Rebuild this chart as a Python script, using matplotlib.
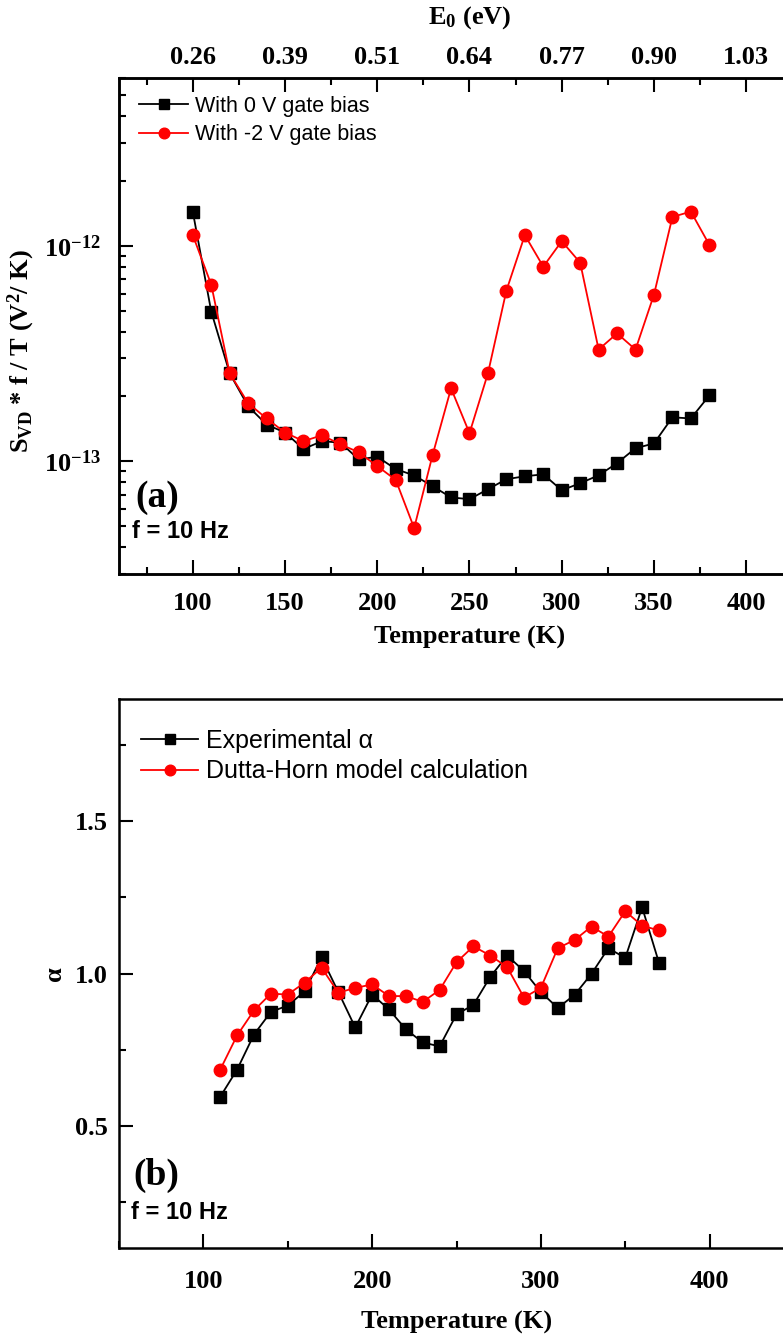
import matplotlib
matplotlib.use("Agg")
import matplotlib.pyplot as plt
from matplotlib.ticker import FixedLocator, LogLocator, NullFormatter, MultipleLocator

plt.rcParams['mathtext.fontset'] = 'custom'
plt.rcParams['mathtext.rm'] = 'Liberation Serif:bold'
plt.rcParams['mathtext.bf'] = 'Liberation Serif:bold'
plt.rcParams['mathtext.it'] = 'Liberation Serif:italic:bold'

SERIF = 'Liberation Serif'
SANS = 'Liberation Sans'

# (a) noise spectral density vs temperature
temp_a = [100, 110, 120, 130, 140, 150, 160, 170, 180, 190, 200, 210, 220, 230, 240,
          250, 260, 270, 280, 290, 300, 310, 320, 330, 340, 350, 360, 370, 380]
svd_0v = [1.44e-12, 4.95e-13, 2.56e-13, 1.80e-13, 1.48e-13, 1.36e-13, 1.14e-13, 1.24e-13,
          1.22e-13, 1.02e-13, 1.05e-13, 9.2e-14, 8.6e-14, 7.66e-14, 6.8e-14, 6.67e-14,
          7.42e-14, 8.26e-14, 8.52e-14, 8.7e-14, 7.34e-14, 7.91e-14, 8.61e-14, 9.8e-14,
          1.15e-13, 1.21e-13, 1.60e-13, 1.58e-13, 2.02e-13]
svd_m2v = [1.12e-12, 6.6e-13, 2.56e-13, 1.86e-13, 1.58e-13, 1.36e-13, 1.24e-13, 1.32e-13,
           1.20e-13, 1.10e-13, 9.5e-14, 8.2e-14, 4.9e-14, 1.07e-13, 2.18e-13, 1.35e-13,
           2.56e-13, 6.19e-13, 1.12e-12, 8.0e-13, 1.05e-12, 8.34e-13, 3.3e-13, 3.92e-13,
           3.3e-13, 5.93e-13, 1.36e-12, 1.44e-12, 1.01e-12]

# top axis: activation energy at the 100..400 K ticks
e0_ticks_T = [100, 150, 200, 250, 300, 350, 400]
e0_labels = ['0.26', '0.39', '0.51', '0.64', '0.77', '0.90', '1.03']

# (b) frequency exponent alpha
temp_b = [110, 120, 130, 140, 150, 160, 170, 180, 190, 200, 210, 220, 230, 240, 250,
          260, 270, 280, 290, 300, 310, 320, 330, 340, 350, 360, 370]
alpha_exp = [0.596, 0.685, 0.80, 0.874, 0.895, 0.941, 1.053, 0.939, 0.823, 0.931, 0.882,
             0.817, 0.774, 0.761, 0.866, 0.897, 0.989, 1.059, 1.008, 0.939, 0.887, 0.930,
             0.999, 1.083, 1.051, 1.217, 1.035]
alpha_dh = [0.685, 0.797, 0.879, 0.934, 0.931, 0.970, 1.019, 0.937, 0.953, 0.964, 0.926,
            0.926, 0.907, 0.946, 1.037, 1.089, 1.059, 1.021, 0.921, 0.953, 1.083, 1.110,
            1.154, 1.121, 1.204, 1.157, 1.141]

W, H = 783, 1339
fig = plt.figure(figsize=(W / 100, H / 100), dpi=100)


def px_axes(left, top, right, bottom):
    return fig.add_axes([left / W, 1 - bottom / H, (right - left) / W, (bottom - top) / H])


def style_ticks(ax, which_axes='both'):
    ax.tick_params(axis=which_axes, which='major', direction='in', length=10, width=1.5)
    ax.tick_params(axis=which_axes, which='minor', direction='in', length=5, width=1.5)
    for s in ax.spines.values():
        s.set_linewidth(1.8)


def bold_serif(labels, size=19):
    for lab in labels:
        lab.set_fontfamily(SERIF)
        lab.set_fontweight('bold')
        lab.set_fontsize(size)


line_kw = dict(lw=1.3)
sq_kw = dict(marker='s', ms=8, color='black', mfc='black', mec='black')
ci_kw = dict(marker='o', ms=9, color='red', mfc='red', mec='red')

# ---------------- panel (a) ----------------
ax1 = px_axes(119, 78, 820, 574)
ax1.plot(temp_a, svd_0v, label='With 0 V gate bias', **sq_kw, **line_kw)
ax1.plot(temp_a, svd_m2v, label='With -2 V gate bias', **ci_kw, **line_kw)
ax1.set_yscale('log')
ax1.set_xlim(60, 440)
ax1.set_ylim(3e-14, 6e-12)
ax1.xaxis.set_major_locator(MultipleLocator(50))
ax1.xaxis.set_minor_locator(MultipleLocator(25))
ax1.yaxis.set_major_locator(FixedLocator([1e-13, 1e-12]))
ax1.set_yticklabels([r'$10^{-13}$', r'$10^{-12}$'])
ax1.yaxis.set_minor_locator(LogLocator(base=10, subs=range(2, 10)))
ax1.yaxis.set_minor_formatter(NullFormatter())
style_ticks(ax1)
ax1.tick_params(axis='x', pad=13)
ax1.tick_params(axis='y', pad=13)
bold_serif(ax1.get_xticklabels() + ax1.get_yticklabels())
ax1.set_xlabel('Temperature (K)', fontfamily=SERIF, fontweight='bold', fontsize=19, labelpad=8)
ax1.set_ylabel(r'S$_{\mathrm{VD}}$ * f / T (V$^{2}$/ K)', fontfamily=SERIF,
               fontweight='bold', fontsize=19)
ax1.yaxis.set_label_coords(-0.117, 0.45)
ax1.spines['right'].set_visible(False)

top = ax1.twiny()
top.set_xlim(ax1.get_xlim())
top.xaxis.set_major_locator(FixedLocator(e0_ticks_T))
top.set_xticklabels(e0_labels)
top.xaxis.set_minor_locator(MultipleLocator(25))
style_ticks(top, 'x')
top.tick_params(axis='x', pad=6.5)
bold_serif(top.get_xticklabels())
top.set_xlabel(r'E$_{0}$ (eV)', fontfamily=SERIF, fontweight='bold', fontsize=19, labelpad=16)
top.spines['right'].set_visible(False)

ax1.legend(loc='upper left', frameon=False, prop={'family': SANS, 'size': 15.5},
           handlelength=2.3, handletextpad=0.3, labelspacing=0.35,
           borderaxespad=0.3, bbox_to_anchor=(0.007, 0.995), markerscale=0.85)
ax1.text(0.024, 0.155, '(a)', transform=ax1.transAxes, fontfamily=SERIF,
         fontweight='bold', fontsize=27, va='center', ha='left')
ax1.text(0.019, 0.085, 'f = 10 Hz', transform=ax1.transAxes, fontfamily=SANS,
         fontweight='bold', fontsize=17, va='center', ha='left')

# ---------------- panel (b) ----------------
ax2 = px_axes(119, 699, 794, 1248)
ax2.plot(temp_b, alpha_exp, label='Experimental α', **sq_kw, **line_kw)
ax2.plot(temp_b, alpha_dh, label='Dutta-Horn model calculation', **ci_kw, **line_kw)
ax2.set_xlim(50, 450)
ax2.set_ylim(0.1, 1.9)
ax2.xaxis.set_major_locator(MultipleLocator(100))
ax2.xaxis.set_minor_locator(MultipleLocator(50))
ax2.yaxis.set_major_locator(FixedLocator([0.5, 1.0, 1.5]))
ax2.yaxis.set_minor_locator(MultipleLocator(0.25))
ax2.set_yticklabels(['0.5', '1.0', '1.5'])
style_ticks(ax2)
ax2.tick_params(axis='x', pad=16)
ax2.tick_params(axis='y', pad=8)
bold_serif(ax2.get_xticklabels() + ax2.get_yticklabels())
ax2.set_xlabel('Temperature (K)', fontfamily=SERIF, fontweight='bold', fontsize=19, labelpad=13)
ax2.set_ylabel('α', fontfamily=SERIF, fontweight='bold', fontsize=19, labelpad=6.5)
ax2.spines['right'].set_visible(False)

ax2.legend(loc='upper left', frameon=False, prop={'family': SANS, 'size': 18},
           handlelength=2.3, handletextpad=0.3, labelspacing=0.25,
           borderaxespad=0.8, bbox_to_anchor=(-0.012, 1.0), markerscale=0.85)
ax2.text(0.021, 0.133, '(b)', transform=ax2.transAxes, fontfamily=SERIF,
         fontweight='bold', fontsize=27, va='center', ha='left')
ax2.text(0.018, 0.064, 'f = 10 Hz', transform=ax2.transAxes, fontfamily=SANS,
         fontweight='bold', fontsize=17, va='center', ha='left')

fig.savefig('out.png', dpi=100)
